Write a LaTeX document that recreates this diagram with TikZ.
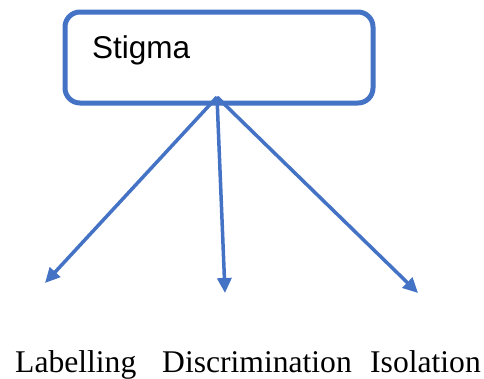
\documentclass[tikz,border=0pt]{standalone}
\usepackage{fontspec}
\setmainfont{Liberation Serif}
\newfontfamily\boxfont{Liberation Sans}
\usetikzlibrary{arrows.meta}
\definecolor{officeblue}{HTML}{4472C4}
\tikzset{
  framebox/.style={draw=officeblue, line width=5pt, rounded corners=15pt},
  branch/.style={draw=officeblue, line width=3.5pt, -{Triangle[length=15pt,width=14pt]}},
  leaf/.style={anchor=base west, inner sep=0pt, font=\fontsize{31.6}{36}\selectfont},
}
\begin{document}
\begin{tikzpicture}[x=1pt,y=-1pt]
  \useasboundingbox (0,0) rectangle (484,378);
  % main box with its title
  \draw[framebox] (65,12) rectangle (373,103);
  \node[anchor=base west, inner sep=0pt, font=\boxfont\fontsize{31.5}{36}\selectfont] (stigma) at (92,58) {Stigma};
  % branching point and arrow ends
  \coordinate (root) at (217,97);
  \coordinate (endL) at (45,283);
  \coordinate (endD) at (225,293);
  \coordinate (endI) at (418,293);
  \draw[branch] (root) -- (endL);
  \draw[branch] (root) -- (endD);
  \draw[branch] (root) -- (endI);
  % labels
  \node[leaf] (lab) at (15,372) {Labelling};
  \node[leaf] (dis) at (162,372) {Discrimination};
  \node[leaf] (iso) at (370,372) {Isolation};
\end{tikzpicture}
\end{document}
